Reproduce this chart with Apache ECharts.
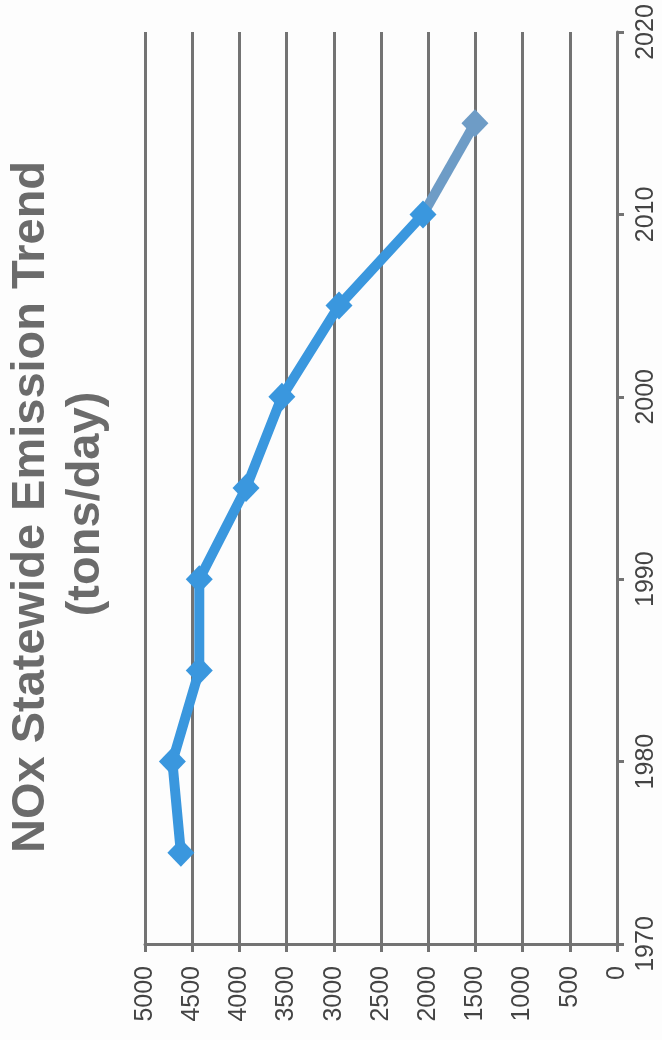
<!DOCTYPE html>
<html>
<head>
<meta charset="utf-8">
<style>
  html, body { margin: 0; padding: 0; background: #fdfdfd; }
  #chart { width: 662px; height: 1040px; }
</style>
<script src="https://cdn.jsdelivr.net/npm/echarts@6/dist/echarts.min.js"></script>
</head>
<body>
<div id="chart"></div>
<script>
// NOx statewide emissions (tons/day) by year
const years = [1975, 1980, 1985, 1990, 1995, 2000, 2005, 2010, 2015];
const emissions = [4620, 4710, 4425, 4425, 3930, 3550, 2945, 2055, 1505];
const valueTicks = [0, 500, 1000, 1500, 2000, 2500, 3000, 3500, 4000, 4500, 5000];
const yearTicks = [1970, 1980, 1990, 2000, 2010, 2020];
const titleLines = ['NOx Statewide Emission Trend', '(tons/day)'];

const FONT = '"Liberation Sans", Arial, sans-serif';
const GRID_COLOR = '#737373';
const LABEL_COLOR = '#444444';
const LINE_BLUE = '#3a97de';
const LINE_SLATE = '#6e9cc6';

const chart = echarts.init(document.getElementById('chart'), null, { renderer: 'canvas' });

const points = years.map((y, i) => [emissions[i], y]);
// the latest segment is drawn in a muted slate blue
const mainPoints = points.slice(0, points.length - 1);
const tailPoints = points.slice(points.length - 2);

chart.setOption({
  animation: false,
  backgroundColor: '#fdfdfd',
  grid: { left: 145, right: 45, top: 32, bottom: 96, containLabel: false },
  // Laid out on its side: emission values run along the bottom (reversed), years up the right side
  xAxis: {
    type: 'value',
    inverse: true,
    position: 'bottom',
    min: valueTicks[0],
    max: valueTicks[valueTicks.length - 1],
    interval: valueTicks[1] - valueTicks[0],
    axisLine: { show: true, onZero: false, lineStyle: { color: GRID_COLOR, width: 3 } },
    axisTick: { show: true, inside: false, length: 8, lineStyle: { color: GRID_COLOR, width: 3 } },
    splitLine: { show: true, lineStyle: { color: GRID_COLOR, width: 3 } },
    axisLabel: {
      rotate: 90,
      margin: 22,
      color: LABEL_COLOR,
      fontFamily: FONT,
      fontSize: 25,
      formatter: v => String(v)
    }
  },
  yAxis: {
    type: 'value',
    position: 'right',
    min: yearTicks[0],
    max: yearTicks[yearTicks.length - 1],
    interval: yearTicks[1] - yearTicks[0],
    axisLine: { show: true, onZero: false, lineStyle: { color: GRID_COLOR, width: 3 } },
    axisTick: { show: true, inside: false, length: 7, lineStyle: { color: GRID_COLOR, width: 3 } },
    splitLine: { show: false },
    axisLabel: {
      rotate: 90,
      margin: 17,
      color: LABEL_COLOR,
      fontFamily: FONT,
      fontSize: 25,
      formatter: v => String(v)
    }
  },
  series: [
    {
      type: 'line',
      data: mainPoints,
      symbol: 'diamond',
      symbolSize: [27, 28],
      color: LINE_BLUE,
      lineStyle: { width: 10, color: LINE_BLUE },
      itemStyle: { color: LINE_BLUE },
      z: 5
    },
    {
      type: 'line',
      data: tailPoints,
      symbol: (value, params) => (params.dataIndex === 0 ? 'none' : 'diamond'),
      symbolSize: [27, 28],
      color: LINE_SLATE,
      lineStyle: { width: 10, color: LINE_SLATE },
      itemStyle: { color: LINE_SLATE },
      z: 4
    }
  ],
  graphic: [
    {
      type: 'text',
      x: 31,
      y: 507,
      rotation: Math.PI / 2,
      style: {
        text: titleLines[0],
        font: 'bold 47px ' + FONT,
        fill: '#6b6b6b',
        align: 'center',
        verticalAlign: 'middle'
      }
    },
    {
      type: 'text',
      x: 86,
      y: 504,
      rotation: Math.PI / 2,
      style: {
        text: titleLines[1],
        font: 'bold 47px ' + FONT,
        fill: '#6b6b6b',
        align: 'center',
        verticalAlign: 'middle'
      }
    }
  ]
});
</script>
</body>
</html>
